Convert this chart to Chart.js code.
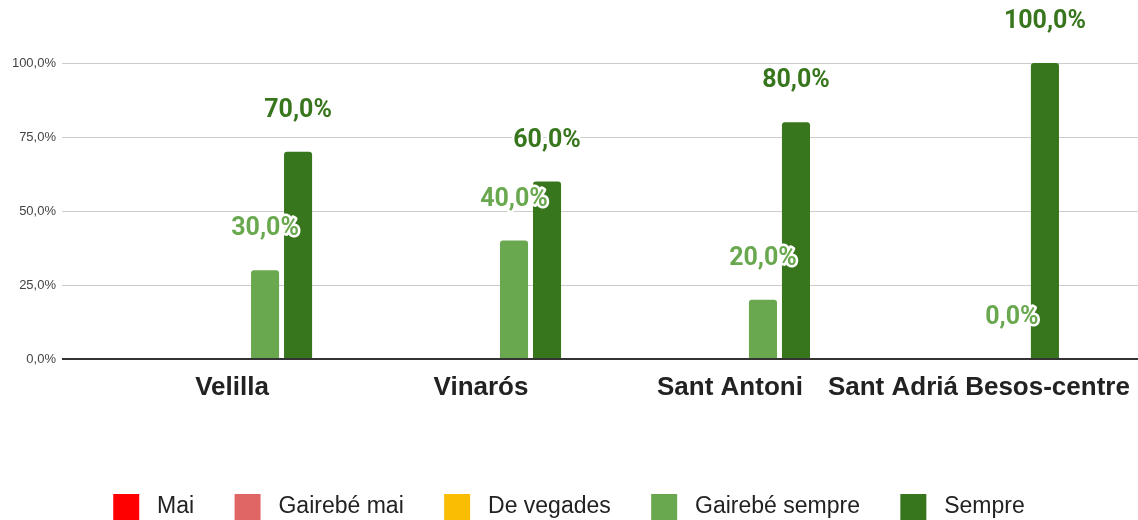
<!DOCTYPE html>
<html>
<head>
<meta charset="utf-8">
<script src="https://cdn.jsdelivr.net/npm/chart.js@4"></script>
<style>
  body { margin: 0; background: #fff; }
  #wrap { width: 1138px; height: 520px; }
</style>
</head>
<body>
<div id="wrap"><canvas id="myChart"></canvas></div>
<script>
// DATA

const categories = ["Velilla", "Vinarós", "Sant Antoni", "Sant Adriá Besos-centre"];
const mai = [null, null, null, null];
const gairebeMai = [null, null, null, null];
const deVegades = [null, null, null, null];
const gairebeSempre = [30, 40, 20, 0];
const sempre = [70, 60, 80, 100];
const yTicks = [0, 25, 50, 75, 100];

function pct(v) {
  return v.toFixed(1).replace(".", ",") + "%";
}

function toPoints(arr) {
  return arr.map((v, i) => ({ x: i, y: v }));
}

// value labels above the bars
const valueLabels = {
  id: "valueLabels",
  afterDatasetsDraw(chart) {
    const ctx = chart.ctx;
    ctx.save();
    ctx.font = "bold 25px Roboto, 'Liberation Sans', Arial";
    ctx.textAlign = "center";
    ctx.textBaseline = "middle";
    ctx.lineJoin = "round";
    chart.data.datasets.forEach((ds, i) => {
      const meta = chart.getDatasetMeta(i);
      if (meta.hidden) return;
      meta.data.forEach((bar, j) => {
        const v = ds.data[j].y;
        if (v === null) return;
        const y = bar.y - 41;
        ctx.strokeStyle = "#fff";
        ctx.lineWidth = 5;
        ctx.strokeText(pct(v), bar.x, y);
        ctx.fillStyle = ds.backgroundColor;
        ctx.fillText(pct(v), bar.x, y);
      });
    });
    ctx.restore();
  },
};

const ctx = document.getElementById("myChart");

new Chart(ctx, {
  type: "bar",
  data: {
    datasets: [
      { label: "Mai", data: toPoints(mai), backgroundColor: "#ff0000" },
      { label: "Gairebé mai", data: toPoints(gairebeMai), backgroundColor: "#e06666" },
      { label: "De vegades", data: toPoints(deVegades), backgroundColor: "#fbbc04" },
      { label: "Gairebé sempre", data: toPoints(gairebeSempre), backgroundColor: "#6aa84f" },
      { label: "Sempre", data: toPoints(sempre), backgroundColor: "#38761d" },
    ],
  },
  options: {
    responsive: true,
    maintainAspectRatio: false,
    animation: false,
    datasets: {
      bar: {
        borderWidth: 0,
        borderRadius: { topLeft: 3, topRight: 3 },
        categoryPercentage: 0.663,
        barPercentage: 0.85,
      },
    },
    layout: {
      padding: { top: 63, left: 0, right: 0, bottom: -10 },
    },
    scales: {
      x: {
        type: "linear",
        offset: false,
        min: -0.683,
        max: 3.639,
        grid: { display: false },
        border: { display: false },
        ticks: {
          stepSize: 1,
          includeBounds: false,
          autoSkip: false,
          maxRotation: 0,
          padding: 5,
          color: "#222",
          font: { family: "'Liberation Sans', Arial", size: 26, weight: "bold" },
          callback: (v) => (Number.isInteger(v) ? categories[v] : ""),
        },
        afterFit(scale) {
          scale.height = 101;
          scale.paddingLeft = 0;
          scale.paddingRight = 0;
        },
      },
      y: {
        min: 0,
        max: 100,
        border: { display: false },
        grid: {
          drawTicks: false,
          color: (c) => (c.tick && c.tick.value === 0 ? "#333" : "#ccc"),
          lineWidth: (c) => (c.tick && c.tick.value === 0 ? 2 : 1),
        },
        afterBuildTicks(scale) {
          scale.ticks = yTicks.map((v) => ({ value: v }));
        },
        ticks: {
          padding: 6,
          color: "#444",
          font: { family: "'Liberation Sans', Arial", size: 13 },
          callback: (v) => pct(v),
        },
        afterFit(scale) {
          scale.width = 62;
        },
      },
    },
    plugins: {
      legend: {
        position: "bottom",
        labels: {
          boxWidth: 26,
          boxHeight: 26,
          padding: 34,
          color: "#222",
          font: { family: "'Liberation Sans', Arial", size: 23 },
          generateLabels(chart) {
            const items = Chart.defaults.plugins.legend.labels.generateLabels(chart);
            items.forEach((it, i) => {
              it.text = " " + it.text + (i < items.length - 1 ? " " : "");
            });
            return items;
          },
        },
      },
      tooltip: { enabled: false },
    },
  },
  plugins: [valueLabels],
});
</script>
</body>
</html>
